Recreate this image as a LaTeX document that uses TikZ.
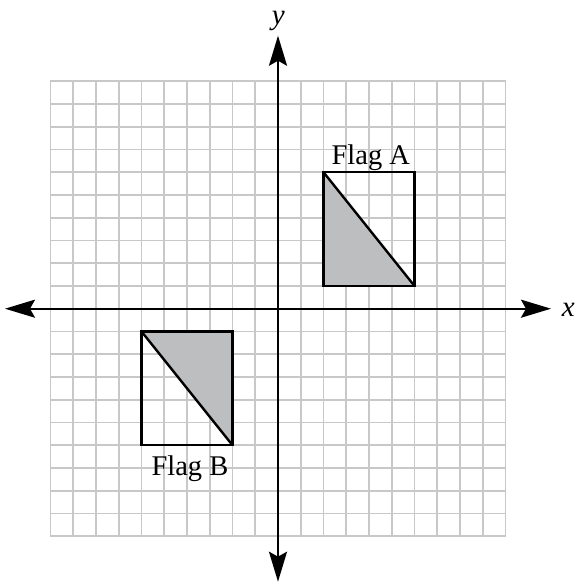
\documentclass[tikz,border=0pt]{standalone}
\usepackage{fontspec}
\setmainfont{Liberation Serif}
\usetikzlibrary{arrows.meta}
\definecolor{gridgray}{RGB}{200,200,200}
\definecolor{flaggray}{RGB}{188,190,192}
\begin{document}
\begin{tikzpicture}[x=22.75pt,y=22.75pt,
  gridline/.style={draw=gridgray,line width=1.8pt},
  axisline/.style={line width=2.2pt,
    {Stealth[length=30pt,width=18pt,inset=5pt]}-{Stealth[length=30pt,width=18pt,inset=5pt]}},
  flagline/.style={line width=2.4pt,line join=miter},
  flagfill/.style={fill=flaggray},
  lbl/.style={font=\fontsize{28.5}{32}\selectfont,inner sep=0pt},
  axlbl/.style={font=\fontsize{29}{32}\selectfont\itshape,inner sep=0pt}]
\useasboundingbox (-278pt,-275.3pt) rectangle (296pt,308.7pt);
% grid
\foreach \i in {-10,...,10}{
  \draw[gridline] (\i,-10) -- (\i,10);
  \draw[gridline] (-10,\i) -- (10,\i);
}
% axes
\coordinate (xl) at (-12,0);
\coordinate (xr) at (12,0);
\coordinate (yb) at (0,-12);
\coordinate (yt) at (0,12);
\draw[axisline] (xl) -- (xr);
\draw[axisline] (yb) -- (yt);
\node[axlbl,anchor=base] (xlab) at (12.76,-0.35) {x};
\node[axlbl,anchor=base] (ylab) at (0.01,12.48) {y};
% Flag A
\fill[flagfill] (2,6) -- (2,1) -- (6,1) -- cycle;
\draw[flagline] (2,1) rectangle (6,6);
\draw[flagline] (2,6) -- (6,1);
\node[lbl,anchor=base] (flagA) at (4.08,6.32) {Flag A};
% Flag B
\fill[flagfill] (-6,-1) -- (-2,-1) -- (-2,-6) -- cycle;
\draw[flagline] (-6,-6) rectangle (-2,-1);
\draw[flagline] (-6,-1) -- (-2,-6);
\node[lbl,anchor=base] (flagB) at (-3.87,-7.32) {Flag B};
\end{tikzpicture}
\end{document}
